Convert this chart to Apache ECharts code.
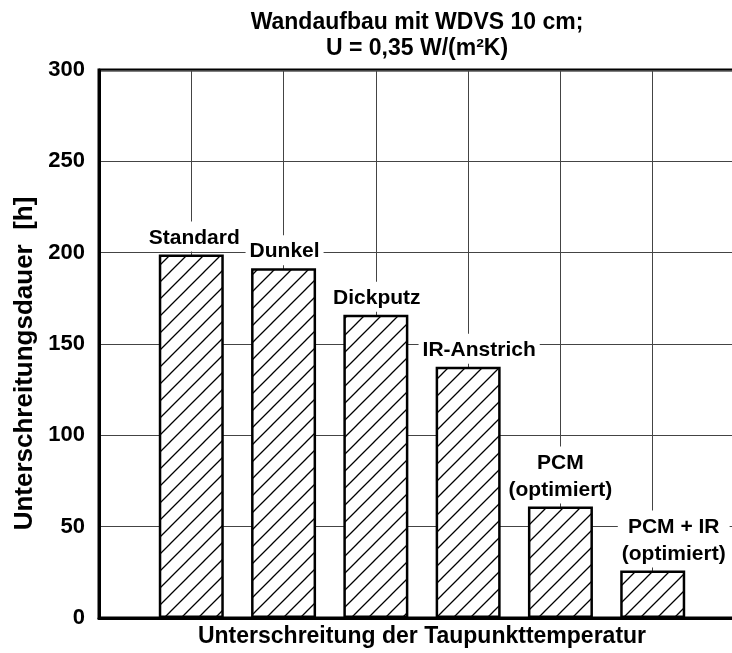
<!DOCTYPE html>
<html>
<head>
<meta charset="utf-8">
<script src="https://cdn.jsdelivr.net/npm/echarts@6/dist/echarts.min.js"></script>
<style>
  html, body { margin: 0; padding: 0; background: #fff; }
  #chart { width: 732px; height: 653px; }
</style>
</head>
<body>
<div id="chart"></div>
<script>
// data
const categories = ['Standard', 'Dunkel', 'Dickputz', 'IR-Anstrich', 'PCM\n(optimiert)', 'PCM + IR\n(optimiert)'];
const hours = [199, 191.5, 166, 137.5, 61, 26];
const yTicks = [0, 50, 100, 150, 200, 250, 300];

// label shift per bar (styling only)
const labelShift = [[3, 0], [1, 0], [1, 0], [11, 0], [0, 0], [21, 0]];

const FONT = '"Liberation Sans", Arial, sans-serif';

// diagonal hatch tile
function makeHatch() {
  const s = 17;
  const c = document.createElement('canvas');
  c.width = s; c.height = s;
  const ctx = c.getContext('2d');
  ctx.fillStyle = '#fff';
  ctx.fillRect(0, 0, s, s);
  ctx.strokeStyle = '#000';
  ctx.lineWidth = 1.3;
  ctx.beginPath();
  ctx.moveTo(0, s); ctx.lineTo(s, 0);
  ctx.moveTo(-2, 2); ctx.lineTo(2, -2);
  ctx.moveTo(s - 2, s + 2); ctx.lineTo(s + 2, s - 2);
  ctx.stroke();
  return c;
}

// empty slot at each end so the bars sit on the grid lines
const xCats = [''].concat(categories, ['']);
const barData = [null].concat(hours.map((v, i) => ({
  value: v,
  label: { offset: labelShift[i] }
})), [null]);

const chart = echarts.init(document.getElementById('chart'));

const options = {
  animation: false,
  title: {
    text: 'Wandaufbau mit WDVS 10 cm;\nU = 0,35 W/(m²K)',
    left: 417,
    top: 10,
    padding: 0,
    textAlign: 'center',
    textStyle: {
      fontFamily: FONT,
      fontSize: 23,
      fontWeight: 'bold',
      lineHeight: 26,
      color: '#000'
    }
  },
  grid: {
    left: 99,
    width: 646,   // right frame sits just outside the picture
    top: 70,
    bottom: 35,
    outerBoundsMode: 'none',
    show: true,
    borderColor: '#000',
    borderWidth: 3
  },
  xAxis: {
    type: 'category',
    data: xCats,
    boundaryGap: false,
    name: 'Unterschreitung der Taupunkttemperatur',
    nameLocation: 'middle',
    nameGap: 7,
    nameTextStyle: {
      fontFamily: FONT,
      fontSize: 23,
      fontWeight: 'bold',
      color: '#000'
    },
    axisLine: { lineStyle: { color: '#000', width: 3 } },
    axisTick: { show: false },
    axisLabel: { show: false },
    splitLine: { show: true, interval: 0, lineStyle: { color: '#444', width: 1 } }
  },
  yAxis: {
    type: 'value',
    min: yTicks[0],
    max: yTicks[yTicks.length - 1],
    interval: yTicks[1] - yTicks[0],
    name: 'Unterschreitungsdauer  [h]',
    nameLocation: 'middle',
    nameGap: 57,
    nameTextStyle: {
      fontFamily: FONT,
      fontSize: 26,
      fontWeight: 'bold',
      color: '#000',
      padding: [0, 39, 0, 0]
    },
    axisLine: { show: true, lineStyle: { color: '#000', width: 3 } },
    axisTick: { show: false },
    axisLabel: {
      margin: 14,
      fontFamily: FONT,
      fontSize: 22,
      fontWeight: 'bold',
      color: '#000'
    },
    splitLine: { show: true, lineStyle: { color: '#444', width: 1 } }
  },
  series: [
    {
      type: 'bar',
      data: barData,
      barWidth: 65,
      itemStyle: {
        color: { image: makeHatch(), repeat: 'repeat' },
        borderColor: '#000',
        borderWidth: 2.5
      },
      label: {
        show: true,
        position: 'top',
        distance: 3,
        formatter: p => xCats[p.dataIndex],
        fontFamily: FONT,
        fontSize: 21,
        fontWeight: 'bold',
        lineHeight: 27,
        color: '#000',
        backgroundColor: '#fff',
        padding: [3, 4, 0, 4]
      }
    }
  ]
};

chart.setOption(options);
</script>
</body>
</html>
